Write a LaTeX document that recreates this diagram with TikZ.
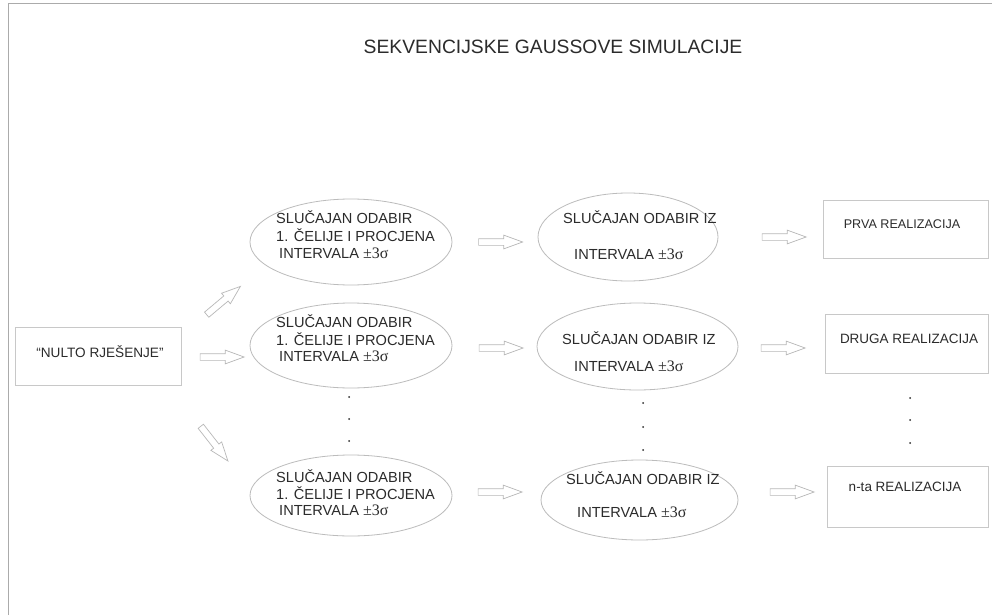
\documentclass[tikz,border=0pt]{standalone}
\usepackage{fontspec}
\setmainfont{Liberation Sans}
\newfontfamily\sigfont{Liberation Serif}
\usetikzlibrary{shapes.geometric,shapes.arrows}
\definecolor{txtc}{HTML}{2B2B2B}
\definecolor{ellc}{HTML}{BCBCBC}
\definecolor{boxc}{HTML}{C8C8C8}
\definecolor{arrc}{HTML}{B8B8B8}
\definecolor{framec}{HTML}{ABABAB}
\newcommand{\pmsig}{{\sigfont\fontsize{16}{17}\selectfont ±3σ}}
\begin{document}
\begin{tikzpicture}[x=1pt,y=-1pt,
  ell/.style={draw=ellc, line width=0.8pt, ellipse, inner sep=0pt},
  rbox/.style={draw=boxc, line width=0.8pt, rectangle, inner sep=0pt},
  txt/.style={text=txtc, inner sep=0pt, anchor=base west, font=\fontsize{14.6}{17}\selectfont},
  ctxt/.style={text=txtc, inner sep=0pt, anchor=center},
  barrow/.style={single arrow, draw=arrc, line width=0.7pt, minimum height=44pt, minimum width=0pt,
     single arrow head extend=3.5pt, single arrow tip angle=40, inner sep=3pt},
  dotc/.style={circle, fill=txtc, inner sep=0pt, minimum size=2pt}]
\useasboundingbox (0,0) rectangle (992,615);
\fill[white] (0,0) rectangle (992,615);
% frame
\coordinate (fbl) at (8,615);
\coordinate (ftl) at (8,4);
\coordinate (ftr) at (992,4);
\draw[framec, line width=1pt] (fbl) -- (ftl) -- (ftr);
% title
\node[ctxt, font=\fontsize{19.3}{22}\selectfont] (title) at (553,47) {SEKVENCIJSKE GAUSSOVE SIMULACIJE};
% start box
\node[rbox, minimum width=166pt, minimum height=58pt] (nulto) at (98,356) {};
\node[ctxt, font=\fontsize{13.6}{16}\selectfont] (nultot) at (100,352) {“NULTO RJEŠENJE”};
% column 1 ellipses
\node[ell, minimum width=202pt, minimum height=86pt] (e11) at (351,242) {};
\node[ell, minimum width=202pt, minimum height=85pt] (e12) at (351,345.5) {};
\node[ell, minimum width=202pt, minimum height=81pt] (e13) at (351,495.5) {};
\node[txt] (t11a) at (276,223.5) {SLUČAJAN ODABIR};
\node[txt] (t11b) at (276,241.5) {1. ČELIJE I PROCJENA};
\node[txt] (t11c) at (279,258.5) {INTERVALA \pmsig};
\node[txt] (t12a) at (276,327.5) {SLUČAJAN ODABIR};
\node[txt] (t12b) at (276,345.5) {1. ČELIJE I PROCJENA};
\node[txt] (t12c) at (279,361.5) {INTERVALA \pmsig};
\node[txt] (t13a) at (276,482.5) {SLUČAJAN ODABIR};
\node[txt] (t13b) at (276,499.5) {1. ČELIJE I PROCJENA};
\node[txt] (t13c) at (279,515.5) {INTERVALA \pmsig};
% column 2 ellipses
\node[ell, minimum width=180pt, minimum height=88pt] (e21) at (628,237) {};
\node[ell, minimum width=201pt, minimum height=87pt] (e22) at (637.5,346.5) {};
\node[ell, minimum width=197pt, minimum height=80pt] (e23) at (639.5,500) {};
\node[txt] (t21a) at (563,223) {SLUČAJAN ODABIR IZ};
\node[txt] (t21b) at (574,259.5) {INTERVALA \pmsig};
\node[txt] (t22a) at (562,344.5) {SLUČAJAN ODABIR IZ};
\node[txt] (t22b) at (574,371.5) {INTERVALA \pmsig};
\node[txt] (t23a) at (566,484.5) {SLUČAJAN ODABIR IZ};
\node[txt] (t23b) at (577,517.5) {INTERVALA \pmsig};
% column 3 boxes
\node[rbox, minimum width=165pt, minimum height=58pt] (r1) at (905.5,229) {};
\node[rbox, minimum width=163pt, minimum height=59pt] (r2) at (906.5,343.5) {};
\node[rbox, minimum width=161pt, minimum height=61pt] (r3) at (907.5,496.5) {};
\node[ctxt, font=\fontsize{12.6}{16}\selectfont] (r1t) at (902,224) {PRVA REALIZACIJA};
\node[ctxt, font=\fontsize{13.5}{16}\selectfont] (r2t) at (909,339) {DRUGA REALIZACIJA};
\node[ctxt, font=\fontsize{13.5}{16}\selectfont] (r3t) at (905,487) {n-ta REALIZACIJA};
% block arrows
\node[barrow] (an) at (217.5,357) {};
\node[barrow, rotate=40] (au) at (220,303.5) {};
\node[barrow, rotate=-52] (ad) at (211.5,440) {};
\node[barrow] (a11) at (496,242) {};
\node[barrow] (a12) at (496.5,348) {};
\node[barrow] (a13) at (495.5,492) {};
\node[barrow] (a21) at (779.5,237) {};
\node[barrow] (a22) at (778.5,348) {};
\node[barrow] (a23) at (787.5,492) {};
% dots
\foreach \y [count=\i] in {397,419,441} {\node[dotc] (d1\i) at (349,\y) {};}
\foreach \y [count=\i] in {403,427,450} {\node[dotc] (d2\i) at (643,\y) {};}
\foreach \y [count=\i] in {398,420,443} {\node[dotc] (d3\i) at (910,\y) {};}
\end{tikzpicture}
\end{document}
